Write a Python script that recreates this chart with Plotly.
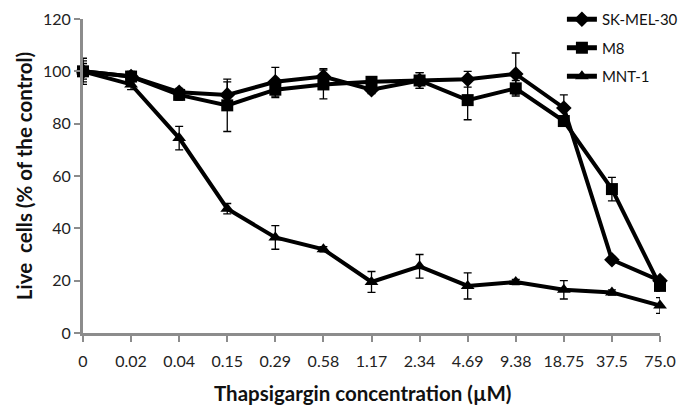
import plotly.graph_objects as go

concentrations = ["0", "0.02", "0.04", "0.15", "0.29", "0.58", "1.17", "2.34",
                  "4.69", "9.38", "18.75", "37.5", "75.0"]

sk_mel_30 = [100, 98, 92, 91, 96, 98, 93, 96.5, 97, 99, 86, 28, 20]
sk_mel_30_err = [5, 2, 1.5, 5, 5.5, 3, 1.5, 3, 3, 8, 5, 1, 1]

m8 = [100, 98, 91, 87, 93, 95, 96, 96.5, 89, 93.5, 81, 55, 18]
m8_err = [4, 1.5, 2, 10, 3, 5.5, 2, 3, 7.5, 3, 2, 4.5, 2]

mnt_1 = [100, 95, 74.5, 47.5, 36.5, 32, 19.5, 25.5, 18, 19.5, 16.5, 15.5, 10.5]
mnt_1_err = [3, 2, 4.5, 2, 4.5, 1, 4, 4.5, 5, 1, 3.5, 1, 3]

series = [
    ("SK-MEL-30", sk_mel_30, sk_mel_30_err, "diamond", 12),
    ("M8", m8, m8_err, "square", 12),
    ("MNT-1", mnt_1, mnt_1_err, "triangle-up", 12),
]

FONT = "Lato, 'Open Sans', sans-serif"
GRAY = "#8c8c8c"

fig = go.Figure()
for name, vals, errs, sym, size in series:
    fig.add_trace(go.Scatter(
        x=concentrations, y=vals, name=name, legendgroup=name,
        mode="lines+markers",
        line=dict(color="black", width=4),
        marker=dict(symbol=sym, size=size, color="black"),
        error_y=dict(type="data", array=errs, visible=True,
                     color="black", thickness=1.3, width=4),
        cliponaxis=False,
    ))

# the page body adds an 8px offset, so the figure is sized to the remaining view
fig.update_layout(
    width=678, height=402,
    margin=dict(l=75, r=26, t=11, b=77, autoexpand=False),
    paper_bgcolor="white", plot_bgcolor="white",
    font=dict(family=FONT, size=16, color="#222222"),
    showlegend=True,
    legend=dict(x=0.83, y=1.051, xanchor="left", yanchor="top",
                bgcolor="rgba(0,0,0,0)", font=dict(size=15, color="#111111"),
                tracegroupgap=6, itemsizing="constant"),
    xaxis=dict(
        type="category", categoryorder="array", categoryarray=concentrations,
        range=[0, 12], showgrid=False, zeroline=False, automargin=False,
        showline=True, linecolor=GRAY, linewidth=3,
        ticks="outside", ticklen=6, tickwidth=2, tickcolor=GRAY,
        ticklabelstandoff=6,
        tickfont=dict(size=16, color="#222222"),
    ),
    yaxis=dict(
        range=[0, 120], dtick=20, showgrid=False, zeroline=False,
        automargin=False,
        showline=True, linecolor=GRAY, linewidth=3,
        ticks="outside", ticklen=6, tickwidth=2, tickcolor=GRAY,
        tickfont=dict(size=16, color="#222222"),
        title=dict(text="<b>Live  cells (% of the control)</b>",
                   font=dict(size=20.5, color="#111111"), standoff=5),
    ),
    annotations=[dict(
        text="<b>Thapsigargin concentration (µM)</b>",
        xref="paper", yref="paper", x=0.484, y=-0.191,
        xanchor="center", yanchor="middle", showarrow=False,
        font=dict(size=20.5, color="#111111"),
    )],
)

fig.write_html("out.html")
